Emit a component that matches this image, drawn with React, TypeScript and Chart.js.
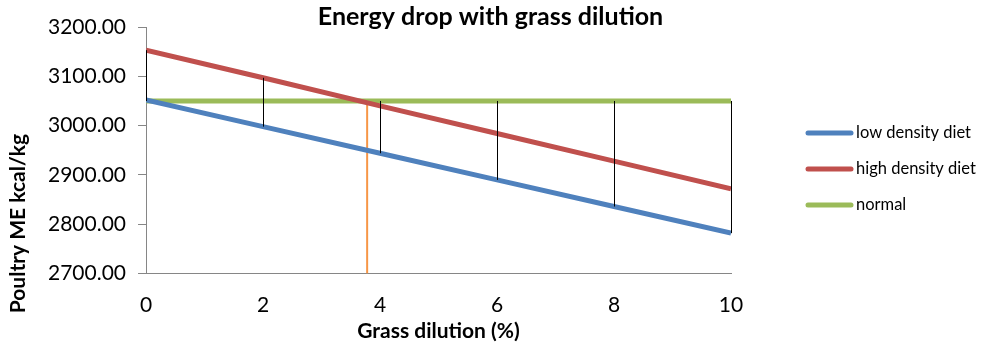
import React, { useEffect, useRef } from "react";
import { Chart, registerables } from "chart.js";

Chart.register(...registerables);

const dilution = [0, 2, 4, 6, 8, 10];
const lowDensity = [3052, 2998, 2944, 2890, 2836, 2782];
const highDensity = [3153, 3097, 3040, 2984, 2928, 2872];
const normal = [3050, 3050, 3050, 3050, 3050, 3050];
const crossoverX = 3.78;
const yMin = 2700;
const yMax = 3200;
const seriesNames = ["low density diet", "high density diet", "normal"];
const seriesColors = ["#4F81BD", "#C0504D", "#9BBB59"];
const chartTitle = "Energy drop with grass dilution";
const xTitle = "Grass dilution (%)";
const yTitle = "Poultry ME kcal/kg";

const FONT = "Lato";

const highLowPlugin = {
  id: "highLow",
  afterDatasetsDraw(chart: any) {
    const { ctx, scales } = chart;
    const xs = scales.x;
    const ys = scales.y;
    ctx.save();
    ctx.strokeStyle = "#000000";
    ctx.lineWidth = 1;
    dilution.forEach((d, i) => {
      const vals = [lowDensity[i], highDensity[i], normal[i]];
      const hi = Math.max(...vals);
      const lo = Math.min(...vals);
      const px = Math.round(xs.getPixelForValue(d)) + 0.5;
      ctx.beginPath();
      ctx.moveTo(px, ys.getPixelForValue(hi));
      ctx.lineTo(px, ys.getPixelForValue(lo));
      ctx.stroke();
    });
    ctx.restore();
  },
};

const titleAndLegendPlugin = {
  id: "titleLegend",
  afterDraw(chart: any) {
    const { ctx, chartArea, width } = chart;
    ctx.save();
    ctx.fillStyle = "#000";
    ctx.textBaseline = "middle";
    // chart title centred on the full canvas
    ctx.font = `bold 25px ${FONT}`;
    ctx.textAlign = "center";
    ctx.fillText(chartTitle, width / 2, 17);
    // y-axis title (Excel places it low on the left)
    ctx.save();
    ctx.font = `bold 21px ${FONT}`;
    ctx.translate(18, chartArea.bottom - 50);
    ctx.rotate(-Math.PI / 2);
    ctx.fillText(yTitle, 0, 0);
    ctx.restore();
    // legend
    ctx.font = `16.5px ${FONT}`;
    ctx.textAlign = "left";
    seriesNames.forEach((name, i) => {
      const y = chartArea.top + 106 + i * 36;
      const x0 = chartArea.right + 77;
      ctx.strokeStyle = seriesColors[i];
      ctx.lineWidth = 5;
      ctx.lineCap = "round";
      ctx.beginPath();
      ctx.moveTo(x0, y);
      ctx.lineTo(x0 + 43, y);
      ctx.stroke();
      ctx.fillText(name, x0 + 48, y);
    });
    ctx.restore();
  },
};

export default function App() {
  const ref = useRef<HTMLCanvasElement | null>(null);
  useEffect(() => {
    if (!ref.current) return;
    const pts = (arr: number[]) => dilution.map((x, i) => ({ x, y: arr[i] }));
    const series = [lowDensity, highDensity, normal].map((arr, i) => ({
      label: seriesNames[i],
      data: pts(arr),
      borderColor: seriesColors[i],
      backgroundColor: seriesColors[i],
      borderWidth: 5,
      pointRadius: 0,
    }));
    const chart = new Chart(ref.current, {
      type: "line",
      data: {
        datasets: [
          ...series,
          {
            label: "crossover",
            data: [
              { x: crossoverX, y: normal[0] },
              { x: crossoverX, y: yMin },
            ],
            borderColor: "#F79646",
            backgroundColor: "#F79646",
            borderWidth: 2,
            pointRadius: 0,
          },
        ],
      },
      options: {
        animation: false,
        responsive: true,
        maintainAspectRatio: false,
        layout: { padding: { top: 27, right: 250, left: 36, bottom: 5 } },
        plugins: {
          title: { display: false },
          legend: { display: false },
          tooltip: { enabled: false },
        },
        scales: {
          x: {
            type: "linear",
            min: 0,
            max: 10,
            ticks: {
              stepSize: 2,
              color: "#000",
              font: { family: FONT, size: 21 },
              padding: 11,
            },
            grid: { display: false },
            border: { display: true, color: "#868686", width: 1 },
            title: {
              display: true,
              text: xTitle,
              color: "#000",
              font: { family: FONT, size: 21, weight: "bold" },
              padding: { top: -10, bottom: 0 },
            },
          },
          y: {
            type: "linear",
            min: yMin,
            max: yMax,
            ticks: {
              stepSize: 100,
              color: "#000",
              font: { family: FONT, size: 21 },
              padding: 12,
              callback: (v: any) => Number(v).toFixed(2),
            },
            grid: {
              drawOnChartArea: false,
              drawTicks: true,
              tickLength: 8,
              color: "#868686",
            },
            border: { display: true, color: "#868686", width: 1 },
            title: { display: false },
          },
        },
      },
      plugins: [highLowPlugin, titleAndLegendPlugin],
    } as any);
    return () => chart.destroy();
  }, []);
  return (
    <div style={{ position: "fixed", left: 0, top: 0, width: 981, height: 349, background: "#fff" }}>
      <canvas ref={ref} />
    </div>
  );
}
